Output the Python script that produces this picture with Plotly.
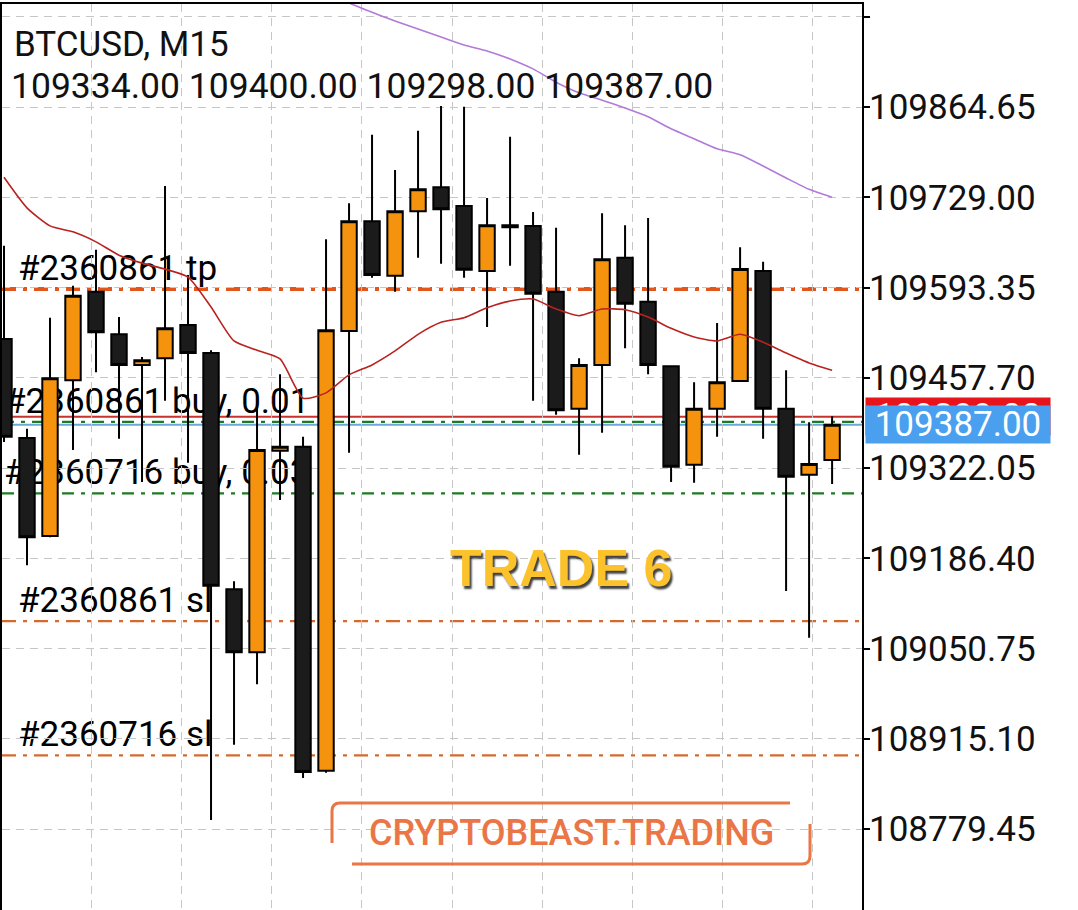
import plotly.graph_objects as go

# ---------------- data ----------------
symbol = "BTCUSD, M15"
opens  = [109516, 109367, 109220, 109454, 109587, 109523, 109477, 109487, 109537, 109495,
          109140, 109045, 109348, 109354, 108867, 109528, 109693, 109611, 109708, 109744,
          109716, 109618, 109687, 109686, 109587, 109411, 109477, 109638, 109572, 109475,
          109327, 109411, 109453, 109618, 109411, 109312, 109334]
highs  = [109656, 109381, 109548, 109596, 109650, 109549, 109489, 109746, 109612, 109499,
          109152, 109414, 109463, 109369, 109666, 109720, 109823, 109770, 109829, 109866,
          109865, 109728, 109820, 109707, 109683, 109487, 109705, 109687, 109698, 109476,
          109451, 109540, 109654, 109632, 109469, 109391, 109400]
lows   = [109361, 109176, 109218, 109349, 109466, 109366, 109301, 109423, 109330, 108793,
          108906, 108997, 109274, 108856, 108864, 109345, 109608, 109587, 109638, 109629,
          109608, 109534, 109626, 109423, 109402, 109342, 109375, 109502, 109463, 109301,
          109300, 109369, 109452, 109366, 109137, 109067, 109298]
closes = [109369, 109218, 109457, 109581, 109526, 109477, 109484, 109532, 109495, 109145,
          109045, 109349, 109354, 108865, 109529, 109693, 109612, 109708, 109741, 109711,
          109620, 109687, 109684, 109584, 109409, 109477, 109636, 109569, 109477, 109324,
          109411, 109451, 109621, 109411, 109309, 109328, 109387]
ma_red = [109759, 109713, 109686, 109677, 109662, 109642, 109630, 109621, 109609, 109564,
          109513, 109499, 109486, 109427, 109435, 109462, 109477, 109498, 109523, 109541,
          109548, 109563, 109573, 109576, 109561, 109551, 109561, 109560, 109549, 109532,
          109519, 109513, 109523, 109511, 109495, 109480, 109469]
ma_purple = [None] * 15 + [110021, 110007, 109994, 109982, 109970, 109958, 109949, 109937,
                           109922, 109902, 109886, 109875, 109863, 109850, 109832, 109817,
                           109802, 109793, 109776, 109758, 109741, 109729]

tp_level = 109591
sl_levels = [109092, 108890]
sl_labels = ["#2360861 sl", "#2360716 sl"]
buy_levels = [109391.5, 109284]
buy_labels = ["#2360861 buy, 0.01", "#2360716 buy, 0.03"]
tp_label = "#2360861 tp"
ask_price = 109399.0
bid_price = closes[-1]

tick_base = 108779.45
tick_step = 135.65
tick_vals = [round(tick_base + tick_step * k, 2) for k in range(10)]
tick_text = [f"{v:.2f}" for v in tick_vals[:-1]] + [""]

x = list(range(len(opens)))

W, H = 1078, 910
ML, MR, MT, MB = 2, 216, 4, 0
PW, PH = W - ML - MR, H - MT - MB


def px(xp):
    return (xp - ML) / PW


def py(yp):
    return (H - MB - yp) / PH


FONT = "Roboto"

fig = go.Figure()
fig.add_trace(go.Candlestick(
    x=x, open=opens, high=highs, low=lows, close=closes,
    increasing=dict(fillcolor="#f5930f", line=dict(color="#000000", width=2)),
    decreasing=dict(fillcolor="#1b1b1b", line=dict(color="#000000", width=2)),
    whiskerwidth=0, showlegend=False, hoverinfo="skip",
))
fig.add_trace(go.Scatter(x=x, y=ma_red, mode="lines",
                         line=dict(color="#b8231f", width=1.6, shape="spline", smoothing=0.6),
                         showlegend=False, hoverinfo="skip"))
fig.add_trace(go.Scatter(x=x, y=ma_purple, mode="lines",
                         line=dict(color="#b27ad8", width=1.6, shape="spline", smoothing=0.6),
                         showlegend=False, hoverinfo="skip"))

shapes = []


def hline(y, color, width, dash):
    shapes.append(dict(type="line", xref="paper", x0=0, x1=1, yref="y", y0=y, y1=y,
                       line=dict(color=color, width=width, dash=dash), layer="between"))


def hlabel(y, text, x0):
    shapes.append(dict(type="line", xref="paper", x0=x0, x1=1, yref="y", y0=y, y1=y,
                       line=dict(color="rgba(0,0,0,0)", width=0), layer="between",
                       label=dict(text=text, textposition="start", yanchor="bottom",
                                  padding=3, font=dict(size=35, color="#000000", family=FONT))))


hline(tp_level, "#e2561c", 4, "14px,7px,4px,7px")
for lv in sl_levels:
    hline(lv, "#d8692e", 2.2, "14px,7px,4px,7px")
hline(ask_price, "#c8322c", 2, "solid")
hline(buy_levels[0], "#1f7a25", 2.2, "12px,7px,4px,7px")
hline(bid_price, "#6aa6d6", 2, "solid")
hline(buy_levels[1], "#1f7a25", 2.2, "12px,7px,4px,7px")

hlabel(tp_level, tp_label, px(18))
for lv, t in zip(sl_levels, sl_labels):
    hlabel(lv, t, px(18))
for lv, t in zip(buy_levels, buy_labels):
    hlabel(lv, t, px(4))

# watermark bracket
wm_col = "#ea7647"
r = 8
path_top = (f"M {px(332)},{py(843)} L {px(332)},{py(803 + r)} "
            f"Q {px(332)},{py(803)} {px(332 + r)},{py(803)} L {px(790)},{py(803)}")
path_bot = (f"M {px(352)},{py(864)} L {px(810 - r)},{py(864)} "
            f"Q {px(810)},{py(864)} {px(810)},{py(864 - r)} L {px(810)},{py(824)}")
for p in (path_top, path_bot):
    shapes.append(dict(type="path", xref="paper", yref="paper", path=p,
                       line=dict(color=wm_col, width=3), layer="above"))

annotations = [
    dict(text=symbol, xref="paper", yref="paper", x=px(12), y=py(44),
         xanchor="left", yanchor="middle", showarrow=False,
         font=dict(size=35, color="#111111", family=FONT)),
    dict(text=f"{opens[-1]:.2f} {highs[-1]:.2f} {lows[-1]:.2f} {closes[-1]:.2f}",
         xref="paper", yref="paper", x=px(9), y=py(86),
         xanchor="left", yanchor="middle", showarrow=False,
         font=dict(size=35.5, color="#111111", family=FONT)),
    dict(text="TRADE 6", xref="paper", yref="paper", x=px(561), y=py(568),
         xanchor="center", yanchor="middle", showarrow=False,
         font=dict(size=52, color="#fcc22c", family="Liberation Sans", weight="bold",
                   shadow="2px 3px 2px rgba(0,0,0,0.75)")),
    dict(text="CRYPTOBEAST.TRADING", xref="paper", yref="paper", x=px(571), y=py(833),
         xanchor="center", yanchor="middle", showarrow=False,
         font=dict(size=36, color=wm_col, family=FONT, weight=500)),
    dict(text=f"{ask_price:.2f}", xref="paper", yref="y", x=1, y=ask_price,
         xanchor="left", yanchor="middle", xshift=3, showarrow=False,
         bgcolor="#e8141c", width=184, height=37, borderpad=0,
         font=dict(size=35, color="#ffffff", family=FONT)),
    dict(text=f"{bid_price:.2f}", xref="paper", yref="y", x=1, y=bid_price,
         xanchor="left", yanchor="middle", xshift=3, showarrow=False,
         bgcolor="#4aa0ee", width=184, height=37, borderpad=0,
         font=dict(size=35, color="#ffffff", family=FONT)),
]

grid_x = [3.806 + 3.919 * k for k in range(9)]

fig.update_layout(
    width=W, height=H,
    margin=dict(l=ML, r=MR, t=MT, b=MB, pad=0),
    paper_bgcolor="#ffffff", plot_bgcolor="#ffffff",
    shapes=shapes, annotations=annotations,
    boxgap=0.33, boxgroupgap=0,
    xaxis=dict(range=[-0.087, 37.3], side="top", showline=True, linecolor="#000000",
               linewidth=2, mirror=False, tickvals=grid_x, showticklabels=False, ticks="",
               showgrid=True, gridcolor="#c6c6c6", gridwidth=1, griddash="8px,6px",
               zeroline=False, rangeslider=dict(visible=False), fixedrange=True),
    yaxis=dict(range=[108657.7, 110019.5], side="right", showline=True, linecolor="#000000",
               linewidth=2, mirror=True, tickvals=tick_vals, ticktext=tick_text,
               ticks="outside", ticklen=6, tickwidth=1.5, tickcolor="#000000",
               ticklabelstandoff=-8,
               tickfont=dict(size=35, color="#111111", family=FONT),
               showgrid=True, gridcolor="#c6c6c6", gridwidth=1, griddash="8px,6px",
               zeroline=False, fixedrange=True),
)

fig.write_html("out.html", config={"displayModeBar": False},
               post_script="document.body.style.margin='0';document.body.style.overflow='hidden';")
